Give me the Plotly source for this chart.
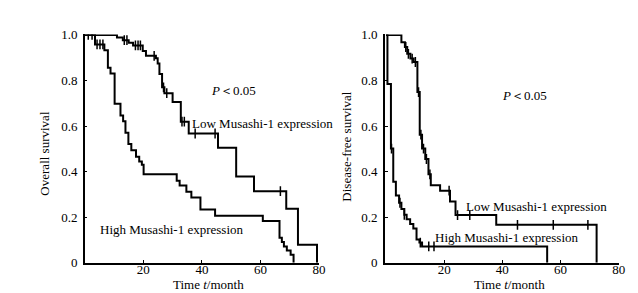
import plotly.graph_objects as go

# ---------------- data ----------------
# Overall survival, low Musashi-1
os_low_t = [0, 11.0, 13.0, 15.0, 16.5, 19.8, 20.9, 24.3, 24.9, 25.5, 26.4, 27.2, 30.0, 32.8, 35.5, 45.5, 51.7, 57.8, 68.8, 72.8, 79.3]
os_low_s = [1.0, 0.989, 0.977, 0.966, 0.954, 0.929, 0.908, 0.898, 0.874, 0.828, 0.770, 0.744, 0.705, 0.619, 0.567, 0.504, 0.378, 0.314, 0.237, 0.078, 0.0]
os_low_cens = [13.5, 14.4, 17.3, 18.2, 19.0, 23.7, 26.9, 28.0, 33.2, 34.0, 37.7, 44.5, 66.8]

# Overall survival, high Musashi-1
os_high_t = [0, 3.5, 6.7, 7.9, 8.8, 10.2, 12.2, 13.1, 13.9, 14.9, 15.9, 17.5, 18.6, 19.5, 20.1, 31.4, 32.4, 34.7, 36.4, 39.5, 44.5, 60.8, 66.5, 67.3, 68.0, 69.0, 70.3, 71.3]
os_high_s = [1.0, 0.958, 0.933, 0.856, 0.831, 0.698, 0.646, 0.621, 0.570, 0.521, 0.493, 0.465, 0.444, 0.430, 0.388, 0.360, 0.339, 0.311, 0.286, 0.233, 0.206, 0.183, 0.109, 0.091, 0.071, 0.053, 0.035, 0.0]
os_high_cens = [1.2, 2.5, 4.2, 5.2, 6.2]

# Disease-free survival, low Musashi-1
dfs_low_t = [0, 5.3, 6.5, 7.3, 8.4, 9.5, 10.8, 11.6, 12.4, 13.5, 14.6, 15.4, 18.6, 22.0, 23.9, 37.9, 72.4]
dfs_low_s = [1.0, 0.968, 0.947, 0.917, 0.896, 0.881, 0.749, 0.562, 0.501, 0.455, 0.388, 0.340, 0.316, 0.268, 0.209, 0.166, 0.0]
dfs_low_cens = [6.8, 7.7, 9.0, 10.1, 11.2, 12.0, 12.9, 13.9, 15.1, 21.7, 24.6, 28.8, 45.2, 57.5, 69.4]

# Disease-free survival, high Musashi-1
dfs_high_t = [0, 0.5, 1.7, 2.5, 3.4, 4.5, 5.3, 6.3, 7.1, 8.3, 9.4, 10.5, 11.5, 12.4, 55.4]
dfs_high_s = [1.0, 0.784, 0.501, 0.355, 0.295, 0.263, 0.235, 0.210, 0.190, 0.170, 0.150, 0.102, 0.088, 0.071, 0.0]
dfs_high_cens = [1.9, 4.8, 6.3, 11.8, 14.7, 16.5]

x_ticks = [20, 40, 60, 80]
y_ticks = [0, 0.2, 0.4, 0.6, 0.8, 1.0]
y_ticklabels = ["0", "0.2", "0.4", "0.6", "0.8", "1.0"]

W, H = 638, 293
FONT = "Liberation Serif, Times New Roman, serif"


def step_at(ts, ss, t):
    v = ss[0]
    for ti, si in zip(ts, ss):
        if ti <= t:
            v = si
    return v


fig = go.Figure()


def add_curve(ts, ss, cens, xa, ya):
    fig.add_trace(go.Scatter(x=ts, y=ss, mode="lines", line=dict(color="black", width=2, shape="hv"),
                             xaxis=xa, yaxis=ya, showlegend=False, hoverinfo="skip"))
    fig.add_trace(go.Scatter(x=cens, y=[step_at(ts, ss, c) for c in cens], mode="markers",
                             marker=dict(symbol="line-ns", size=7, line=dict(color="black", width=1.5)),
                             xaxis=xa, yaxis=ya, showlegend=False, hoverinfo="skip"))


add_curve(os_low_t, os_low_s, os_low_cens, "x", "y")
add_curve(os_high_t, os_high_s, os_high_cens, "x", "y")
add_curve(dfs_low_t, dfs_low_s, dfs_low_cens, "x2", "y2")
add_curve(dfs_high_t, dfs_high_s, dfs_high_cens, "x2", "y2")

ydom = [1 - 261 / H, 1 - 20.5 / H]
axis_common = dict(showgrid=False, zeroline=False, showline=True, linecolor="black", linewidth=1.5,
                   ticks="inside", ticklen=3, tickwidth=1.2, tickcolor="black",
                   tickfont=dict(family=FONT, size=13, color="black"))

fig.update_layout(
    width=W, height=H,
    margin=dict(l=0, r=0, t=0, b=0, pad=0),
    paper_bgcolor="white", plot_bgcolor="white",
    xaxis=dict(domain=[77.6 / W, 314.5 / W], range=[0, 80], tickvals=x_ticks, anchor="y",
               ticklabelstandoff=-6, **axis_common),
    yaxis=dict(domain=ydom, range=[0, 1.002], tickvals=y_ticks, ticktext=y_ticklabels, anchor="x",
               ticklabelstandoff=3, **axis_common),
    xaxis2=dict(domain=[381 / W, 617.5 / W], range=[-0.4, 80], tickvals=x_ticks, anchor="y2",
                ticklabelstandoff=-6, **axis_common),
    yaxis2=dict(domain=ydom, range=[0, 1.002], tickvals=y_ticks, ticktext=y_ticklabels, anchor="x2",
                ticklabelstandoff=3, **axis_common),
)


def ann(text, px, py, xanchor="center", angle=0, size=13):
    fig.add_annotation(text=text, x=px / W, y=1 - py / H, xref="paper", yref="paper",
                       xanchor=xanchor, yanchor="middle", showarrow=False, textangle=angle,
                       font=dict(family=FONT, size=size, color="black"))


ann("Overall survival", 36.5, 146, angle=-90)
ann("Time <i>t</i>/month", 203, 284)
ann("<i>P</i>＜0.05", 228, 80)
ann("Low Musashi-1 expression", 184, 114.5, xanchor="left")
ann("High Musashi-1 expression", 91, 226.5, xanchor="left")

ann("Disease-free survival", 342.5, 139, angle=-90)
ann("Time <i>t</i>/month", 507, 284)
ann("<i>P</i>＜0.05", 522, 85)
ann("Low Musashi-1 expression", 461, 201.5, xanchor="left")
ann("High Musashi-1 expression", 429.5, 235, xanchor="left")

fig.write_html("out.html")
